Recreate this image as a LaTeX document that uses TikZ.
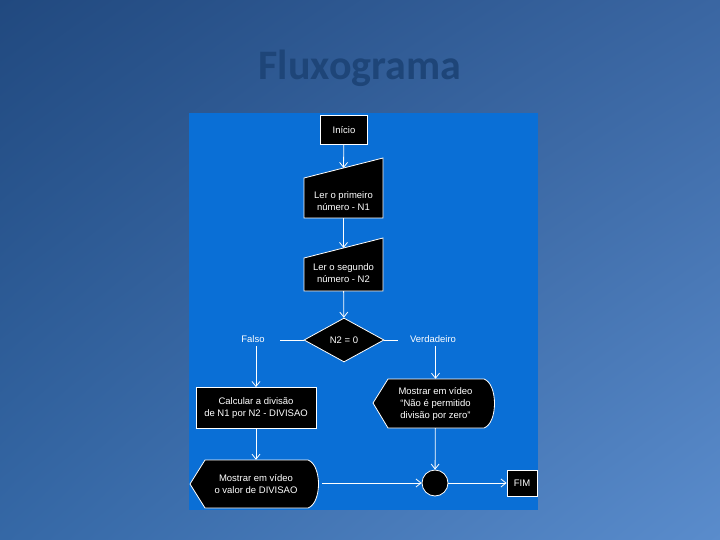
\documentclass[tikz,border=0pt]{standalone}
\usepackage{fontspec}
\setmainfont{Liberation Sans}
\newfontfamily\titlefont{Carlito}
\usepackage{tikz}
\usetikzlibrary{arrows.meta,shapes.geometric,positioning,shadings}
\definecolor{fundoa}{HTML}{21497F}
\definecolor{fundob}{HTML}{3A66A2}
\definecolor{fundoc}{HTML}{5A8CCC}
\definecolor{fundod}{HTML}{3568A6}
\definecolor{painel}{HTML}{0A6FD6}
\definecolor{titulo}{HTML}{1E4578}

\begin{document}
\begin{tikzpicture}[x=1pt, y=-1pt,
  caixa/.style={fill=black, draw=white, thick, text=white, align=center, font=\fontsize{9.5}{12}\selectfont},
  forma/.style={fill=black, draw=white, thick},
  texto/.style={text=white, align=center, inner sep=0pt, font=\fontsize{9.5}{12}\selectfont},
  rotulo/.style={text=white, font=\fontsize{9.5}{12}\selectfont},
  linha/.style={draw=white, thick},
  seta/.style={draw=white, thick, -{Straight Barb[length=5pt,width=8pt]}}]
\useasboundingbox (0,0) rectangle (720,540);
\shade[shading=bilinear interpolation, upper left=fundoa, upper right=fundob, lower right=fundoc, lower left=fundod] (0,0) rectangle (720,540);
\node[font=\titlefont\bfseries\fontsize{42}{46}\selectfont, text=titulo] (titulo) at (360,68) {Fluxograma};
\fill[painel] (189,113) rectangle (538,510);

% entrada
\node[caixa, minimum width=47, minimum height=29] (inicio) at (344,130) {Início};
\filldraw[forma] (304,218) -- (383,218) -- (383,158) -- (304,178) -- cycle;
\node[texto, minimum width=79, minimum height=34] (ler1) at (343.5,201) {Ler o primeiro\\número - N1};
\coordinate (ler1topo) at (343.5,168);
\filldraw[forma] (304,291) -- (383,291) -- (383,238) -- (304,258) -- cycle;
\node[texto, minimum width=79, minimum height=36] (ler2) at (343.5,273) {Ler o segundo\\número - N2};
\coordinate (ler2topo) at (343.5,248);

% decisao
\node[caixa, diamond, inner sep=0pt, minimum width=80, minimum height=44] (cond) at (344,340) {N2 = 0};
\node[rotulo] (falso) at (253,339) {Falso};
\node[rotulo] (verdade) at (433,339) {Verdadeiro};

% ramo falso
\node[caixa, minimum width=120, minimum height=41] (calc) at (256,408) {Calcular a divisão\\de N1 por N2 - DIVISAO};
\filldraw[forma] (190,484) -- (205,460) -- (308,460) .. controls (322,465) and (322,503) .. (308,508) -- (205,508) -- cycle;
\node[texto, minimum width=132, minimum height=48] (mostra1) at (256,484) {Mostrar em vídeo\\o valor de DIVISAO};

% ramo verdadeiro
\filldraw[forma] (373,403) -- (388,379) -- (484,379) .. controls (498,384) and (498,423) .. (484,428) -- (388,428) -- cycle;
\node[texto, minimum width=125, minimum height=49] (mostra2) at (435.5,403.5) {Mostrar em vídeo\\``Não é permitido\\divisão por zero''};

% fim
\node[fill=black, draw=white, thick, circle, minimum size=26] (junta) at (435,483) {};
\node[caixa, minimum width=30, minimum height=26] (fim) at (522,483) {FIM};

\draw[seta] (inicio) -- (ler1topo);
\draw[seta] (ler1) -- (ler2topo);
\draw[seta] (ler2) -- (cond);
\draw[linha] (cond.west) -- ([xshift=12]falso.east |- cond.west);
\draw[linha] (cond.east) -- ([xshift=-8]verdade.west |- cond.east);
\draw[seta] (falso.south -| calc.north) -- (calc.north);
\draw[seta] (verdade.south -| mostra2.north) -- (mostra2.north);
\draw[seta] (calc) -- (mostra1);
\draw[seta] (mostra2) -- (junta);
\draw[seta] (mostra1.east |- junta.west) -- (junta.west);
\draw[seta] (junta) -- (fim);
\end{tikzpicture}
\end{document}
